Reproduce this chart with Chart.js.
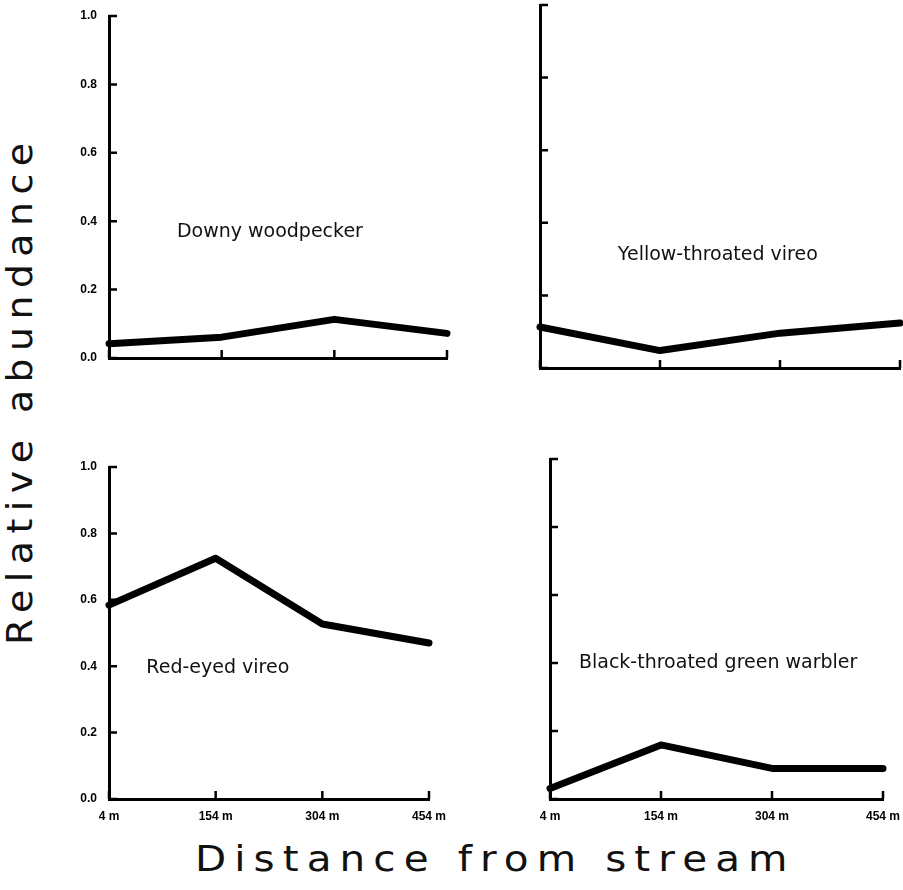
<!DOCTYPE html>
<html><head><meta charset="utf-8">
<script src="https://cdn.jsdelivr.net/npm/chart.js@4.4.0/dist/chart.umd.min.js"></script>
<style>
html,body{margin:0;padding:0;background:#fff;}
#wrap{position:relative;width:903px;height:890px;overflow:hidden;background:#fff;}
canvas{position:absolute;}
.title{position:absolute;font-family:"DejaVu Sans";font-size:35px;line-height:35px;color:#111;white-space:nowrap;letter-spacing:7px;transform-origin:0 0;}
</style></head><body>
<div id="wrap">
<canvas id="c0"></canvas>
<canvas id="c1"></canvas>
<canvas id="c2"></canvas>
<canvas id="c3"></canvas>
<div id="xt" class="title">Distance from stream</div>
<div id="yt" class="title">Relative abundance</div>
</div>
<script>
const distances = ['4 m', '154 m', '304 m', '454 m'];
const downyWoodpecker = [0.042, 0.061, 0.113, 0.072];
const yellowThroatedVireo = [0.113, 0.048, 0.096, 0.124];
const redEyedVireo = [0.584, 0.725, 0.527, 0.470];
const blackThroatedGreenWarbler = [0.031, 0.159, 0.090, 0.090];
const yTicks = [0, 0.2, 0.4, 0.6, 0.8, 1.0];
const yTickLabels = ['0.0', '0.2', '0.4', '0.6', '0.8', '1.0'];

const panels = [
  {id:'c0', name:'Downy woodpecker', data:downyWoodpecker, box:[40,0,430,380], area:[109,16,447,358], lab:[0.476,0.632], showY:true, showX:false},
  {id:'c1', name:'Yellow-throated vireo', data:yellowThroatedVireo, box:[470,0,433,380], area:[540,5,900,368], lab:[0.494,0.689], showY:false, showX:false},
  {id:'c2', name:'Red-eyed vireo', data:redEyedVireo, box:[40,440,430,380], area:[109,467,429,799], lab:[0.34,0.605], showY:true, showX:true},
  {id:'c3', name:'Black-throated green warbler', data:blackThroatedGreenWarbler, box:[470,440,433,380], area:[550,459,883,799], lab:[0.505,0.6], showY:false, showX:true}
];

const inwardTicks = {
  id: 'inwardTicks',
  afterDraw(chart, args, opts) {
    const ctx = chart.ctx, a = chart.chartArea, x = chart.scales.x, y = chart.scales.y;
    ctx.save();
    ctx.strokeStyle = '#000';
    ctx.lineWidth = 2.5;
    ctx.beginPath();
    y.ticks.forEach(t => { const py = y.getPixelForValue(t.value); ctx.moveTo(a.left, py); ctx.lineTo(a.left + 8, py); });
    x.ticks.forEach((t, i) => { const px = x.getPixelForValue(i); ctx.moveTo(px, a.bottom); ctx.lineTo(px, a.bottom - 8); });
    ctx.stroke();
    ctx.fillStyle = '#111';
    ctx.font = '19px "DejaVu Sans"';
    ctx.textAlign = 'center';
    ctx.textBaseline = 'middle';
    ctx.fillText(opts.text, a.left + opts.fx * (a.right - a.left), a.top + opts.fy * (a.bottom - a.top));
    ctx.restore();
  }
};

function makeChart(p) {
  const cv = document.getElementById(p.id);
  const [bx, by, bw, bh] = p.box;
  const [l, t, r, b] = p.area;
  cv.width = bw; cv.height = bh;
  cv.style.left = bx + 'px'; cv.style.top = by + 'px';
  const tickFont = {family: 'Liberation Sans', size: 12, weight: 'bold'};
  new Chart(cv, {
    type: 'line',
    data: {labels: distances, datasets: [{data: p.data, borderColor: '#000', borderWidth: 7, pointRadius: 0, tension: 0, fill: false, clip: false, borderJoinStyle: 'round', borderCapStyle: 'round'}]},
    options: {
      responsive: false, animation: false, devicePixelRatio: 1,
      layout: {padding: {left: 0, top: t - by, right: bx + bw - r, bottom: 0}},
      plugins: {legend: {display: false}, tooltip: {enabled: false}, title: {display: false},
        inwardTicks: {text: p.name, fx: p.lab[0], fy: p.lab[1]}},
      scales: {
        x: {type: 'category', offset: false, grid: {display: false}, border: {display: true, color: '#000', width: 3},
          ticks: {display: p.showX, color: '#000', font: tickFont, padding: 2, maxRotation: 0, autoSkip: false},
          afterFit(s) { s.height = by + bh - b; }},
        y: {min: 0, max: 1, grid: {display: false}, border: {display: true, color: '#000', width: 3},
          ticks: {display: p.showY, color: '#000', font: tickFont, padding: 4, callback: (v, i) => yTickLabels[i]},
          afterBuildTicks(s) { s.ticks = yTicks.map(v => ({value: v})); },
          afterFit(s) { s.width = l - bx; }}
      }
    },
    plugins: [inwardTicks]
  });
}
panels.forEach(makeChart);

// overall axis titles
const xt = document.getElementById('xt');
const yt = document.getElementById('yt');
const ls = 7;
const xs = 592 / (xt.offsetWidth - ls);
xt.style.left = '195px'; xt.style.top = '842px';
xt.style.transform = 'scaleX(' + xs + ')';
const ys = 502 / (yt.offsetWidth - ls);
yt.style.left = '3px'; yt.style.top = '645px';
yt.style.transform = 'rotate(-90deg) scaleX(' + ys + ')';
</script>
</body></html>
